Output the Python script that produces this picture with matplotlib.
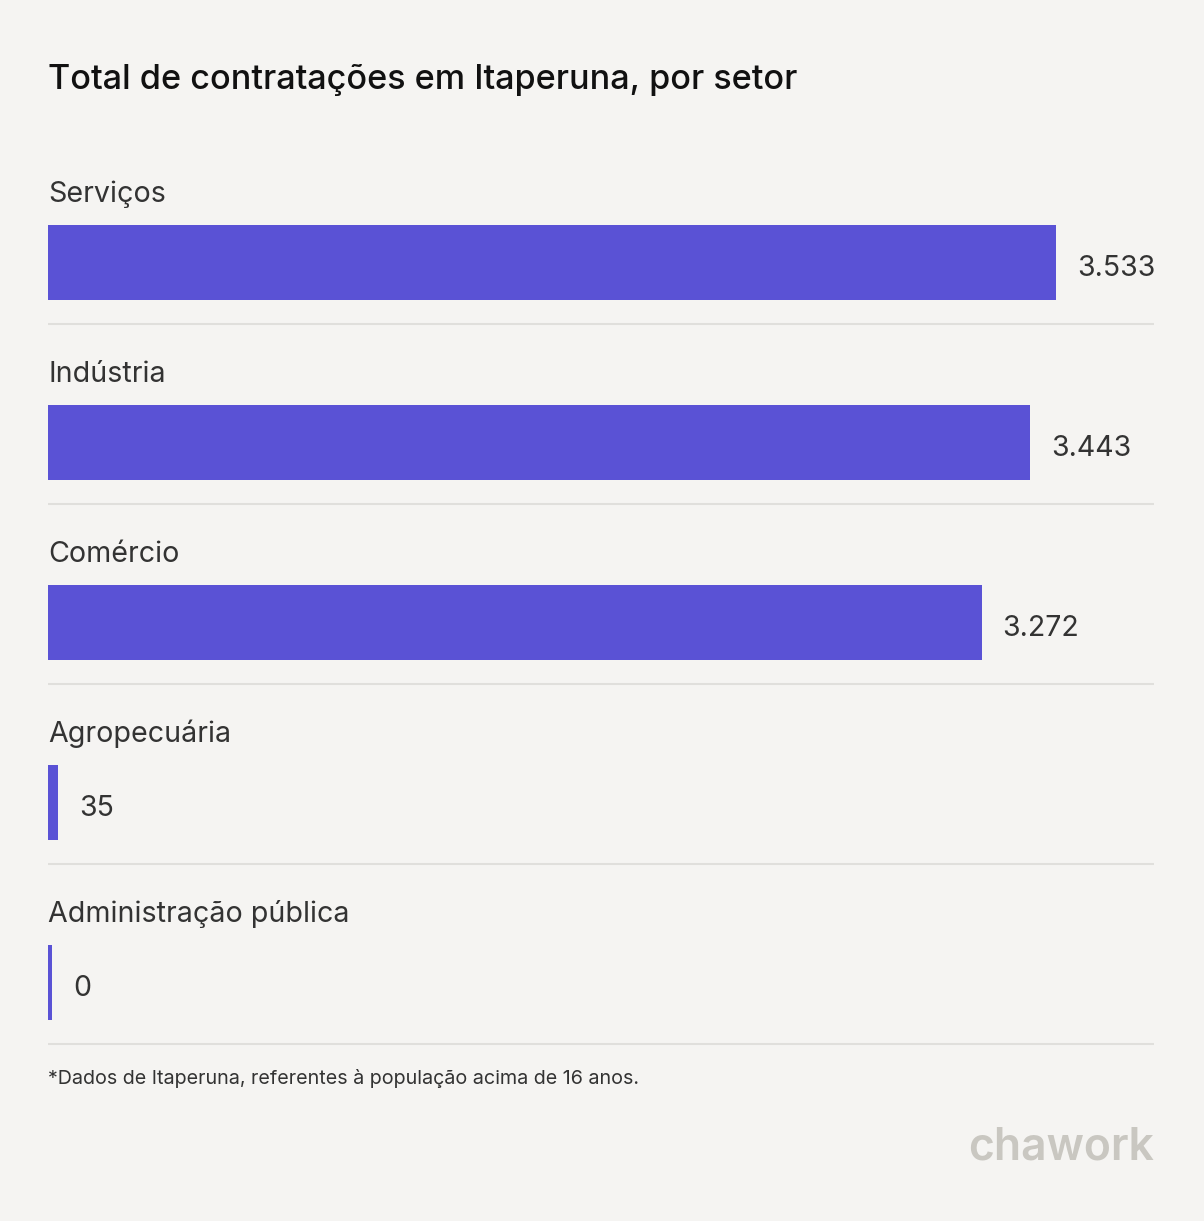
import matplotlib

matplotlib.use("Agg")
import matplotlib.pyplot as plt

# data
categories = ["Serviços", "Indústria", "Comércio", "Agropecuária", "Administração pública"]
values = [3533, 3443, 3272, 35, 0]
value_labels = ["3.533", "3.443", "3.272", "35", "0"]
title = "Total de contratações em Itaperuna, por setor"
footnote = "*Dados de Itaperuna, referentes à população acima de 16 anos."

BG = "#f5f4f2"
BAR = "#5a52d5"
FONT = "Inter"

W, H = 1204, 1221
px_per_unit = (1056 - 48) / 3533  # bar scale
left_px, right_px = 48, 1154

fig = plt.figure(figsize=(W / 100, H / 100), dpi=100, facecolor=BG)
ax = fig.add_axes([0, 0, 1, 1])
ax.set_facecolor(BG)
ax.set_xlim(-left_px / px_per_unit, (W - left_px) / px_per_unit)
ax.set_ylim(H, 0)  # y in pixels from the top
ax.axis("off")

row_top0 = 144
row_h = 180
min_w = 4 / px_per_unit

for i, (cat, v, lab) in enumerate(zip(categories, values, value_labels)):
    top = row_top0 + i * row_h
    ax.text(0, top + 50, cat, fontsize=20.6, color="#333333", family=FONT,
            va="center", ha="left")
    w = max(v, min_w)
    ax.barh(top + 118.5, w, height=75, left=0, color=BAR)
    ax.text(w + 21 / px_per_unit, top + 124, lab, fontsize=20.5, color="#333333",
            family=FONT, va="center", ha="left")
    ax.plot([0, (right_px - left_px) / px_per_unit], [top + 180, top + 180],
            color="#e0dfdc", lw=1.5, solid_capstyle="butt")

ax.text(0, 80, title, fontsize=24.6, color="#111111", family=FONT,
        weight="medium", va="center", ha="left")
ax.text(0, 1079, footnote, fontsize=14.2, color="#333333", family=FONT,
        va="center", ha="left")
ax.text((right_px - left_px) / px_per_unit, 1147, "chawork", fontsize=32,
        color="#c9c7c1", family=FONT, weight="semibold", va="center", ha="right")

fig.savefig("out.png", dpi=100, facecolor=BG)
